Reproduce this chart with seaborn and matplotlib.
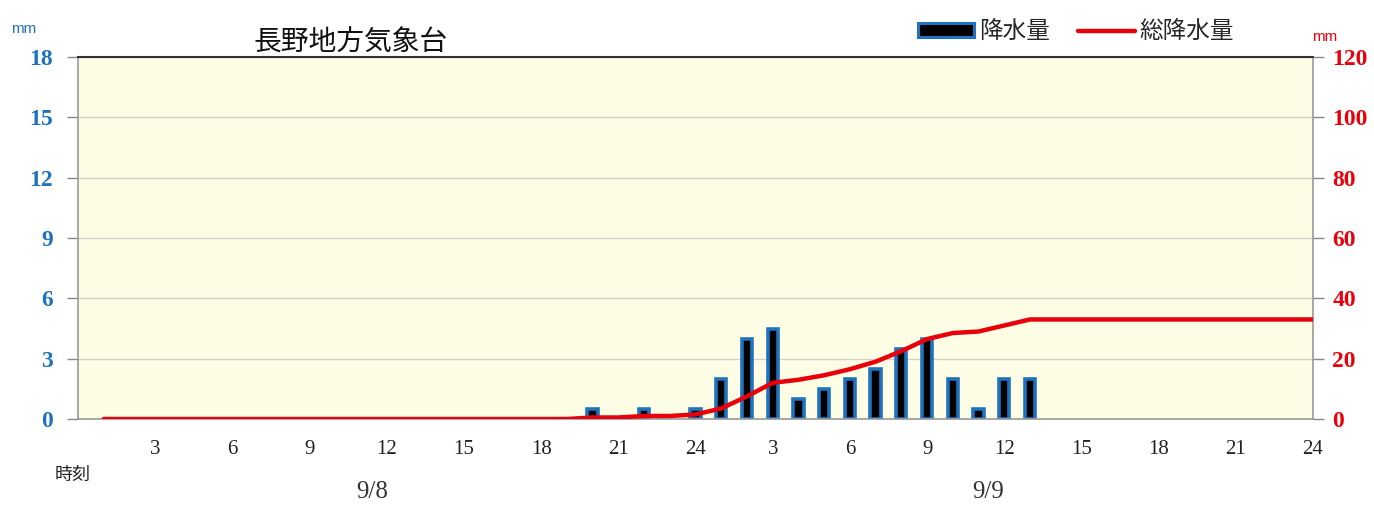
import numpy as np
import pandas as pd
import matplotlib
matplotlib.use("Agg")
import matplotlib.pyplot as plt
import seaborn as sns
from matplotlib.patches import Patch
from matplotlib.lines import Line2D

# ---- data ----
hours = list(range(1, 49))  # 9/8 1:00 .. 9/9 24:00
precip = [0] * 19 + [0.5, 0, 0.5, 0, 0.5, 2, 4, 4.5, 1, 1.5, 2, 2.5, 3.5, 4, 2, 0.5, 2, 2] + [0] * 11
total = [0] * 19 + [0.5, 0.5, 1, 1, 1.5, 3.5, 7.5, 12, 13, 14.5, 16.5, 19, 22.5, 26.5,
                    28.5, 29, 31, 33] + [33] * 11
left_ticks = [0, 3, 6, 9, 12, 15, 18]
right_ticks = [0, 20, 40, 60, 80, 100, 120]
day_labels = ["9/8", "9/9"]
title = "長野地方気象台"
legend_bar = "降水量"
legend_line = "総降水量"
time_label = "時刻"

df = pd.DataFrame({"hour": hours, "precip": precip, "total": total})
bars_df = df[df["precip"] > 0]

sns.set_theme(style="white")
plt.rcParams["font.family"] = ["Noto Sans CJK JP", "DejaVu Sans"]

BLUE = "#1f72bd"
RED = "#e8000b"
SERIF = "Liberation Serif"

fig = plt.figure(figsize=(13.74, 5.05), dpi=100)
ax = fig.add_axes([0.0568, 0.1703, 0.8988, 0.7168])
ax.set_facecolor("#fdfde6")

sns.barplot(data=bars_df, x="hour", y="precip", native_scale=True, width=0.40,
            color="black", edgecolor=BLUE, linewidth=2.6, errorbar=None, ax=ax,
            saturation=1)

ax.set_xlim(0, 48)
ax.set_ylim(0, 18)
ax.set_yticks(left_ticks)
ax.set_yticklabels([str(v) for v in left_ticks], color=BLUE, fontsize=17,
                   fontweight="bold", family=SERIF)
ax.grid(axis="y", color="#d2d2c8", linewidth=1)
ax.set_axisbelow(True)
xt = list(range(0, 49))
ax.set_xticks(xt)
ax.set_xticklabels(["" if (h == 0 or h % 3) else str(h if h <= 24 else h - 24) for h in xt],
                   fontsize=15, family=SERIF, color="#222222")
ax.tick_params(axis="x", direction="out", length=6, color="#888888", width=1, pad=9)
ax.tick_params(axis="y", direction="out", length=8, color="#888888", width=1, pad=10)
ax.set_xlabel("")
ax.set_ylabel("")
for s in ["left", "bottom", "right"]:
    ax.spines[s].set_color("#999999")
    ax.spines[s].set_linewidth(1.2)
ax.spines["top"].set_color("#333333")
ax.spines["top"].set_linewidth(1.5)

ax2 = ax.twinx()
sns.lineplot(data=df, x="hour", y="total", color=RED, linewidth=3.2, ax=ax2)
ax2.set_ylim(0, 120)
ax2.set_yticks(right_ticks)
ax2.set_yticklabels([str(v) for v in right_ticks], color=RED, fontsize=17,
                    fontweight="bold", family=SERIF)
ax2.tick_params(axis="y", direction="out", length=8, color="#888888", width=1, pad=6)
ax2.set_ylabel("")
ax2.set_xlabel("")
for s in ax2.spines.values():
    s.set_visible(False)

# texts
fig.text(0.008, 0.935, "mm", color=BLUE, fontsize=11, family="Liberation Sans")
fig.text(0.955, 0.918, "mm", color=RED, fontsize=11, family="Liberation Sans")
fig.text(0.255, 0.915, title, fontsize=20, ha="center", va="center", color="#111111")
fig.text(0.040, 0.06, time_label, fontsize=13, ha="left", va="center", color="#222222")
fig.text(0.271, 0.025, day_labels[0], fontsize=18, ha="center", va="center",
         family=SERIF, color="#333333")
fig.text(0.719, 0.025, day_labels[1], fontsize=18, ha="center", va="center",
         family=SERIF, color="#333333")

handles = [Patch(facecolor="black", edgecolor=BLUE, linewidth=2.2),
           Line2D([0], [0], color=RED, linewidth=3.2)]
fig.legend(handles, [legend_bar, legend_line], loc="center", ncol=2,
           bbox_to_anchor=(0.783, 0.937), frameon=False, fontsize=17,
           handlelength=2.4, handleheight=0.5, columnspacing=1.2, handletextpad=0.2)

fig.savefig("out.png", dpi=100)
